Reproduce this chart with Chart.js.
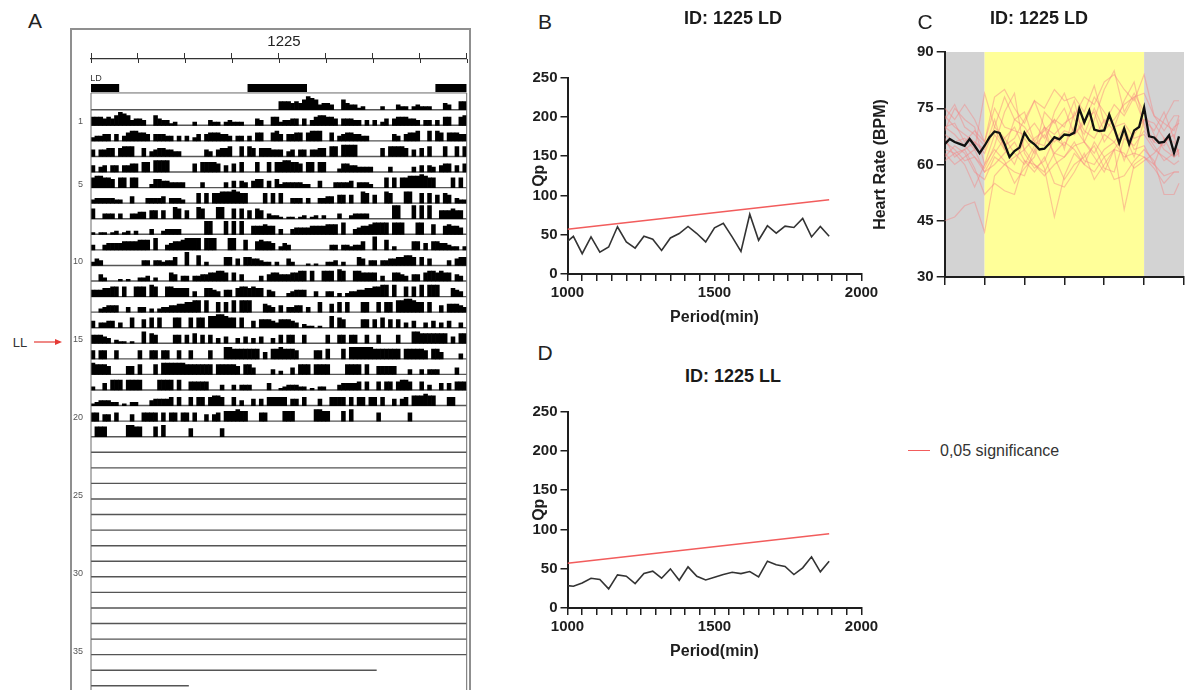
<!DOCTYPE html>
<html>
<head>
<meta charset="utf-8">
<title>1225</title>
<script src="https://cdn.jsdelivr.net/npm/chart.js@4.4.1/dist/chart.umd.min.js"></script>
<style>
html, body { margin: 0; padding: 0; background: #fff; }
body { position: relative; width: 1192px; height: 690px; overflow: hidden; font-family: "Liberation Sans", Arial, sans-serif; color: #222; }
canvas { position: absolute; }
.txt { position: absolute; white-space: nowrap; transform: translate(-50%, -50%); line-height: 1; }
.panel { font-size: 21px; color: #222; }
.ttl { font-size: 18px; font-weight: bold; color: #1a1a1a; }
#frameA { position: absolute; left: 70px; top: 28px; width: 401px; height: 700px; box-sizing: border-box; border: 2px solid #8f8f8f; }
</style>
</head>
<body>
<div id="frameA"></div>
<canvas id="acto" width="400" height="662" style="left:71px;top:28px"></canvas>
<canvas id="qpLD" width="360" height="280" style="left:520px;top:55px"></canvas>
<canvas id="hr" width="332" height="262" style="left:860px;top:30px"></canvas>
<canvas id="qpLL" width="360" height="280" style="left:520px;top:389px"></canvas>

<div class="txt panel" style="left:35px;top:20px">A</div>
<div class="txt panel" style="left:545px;top:21px">B</div>
<div class="txt panel" style="left:925px;top:21px">C</div>
<div class="txt panel" style="left:545px;top:352px">D</div>

<div class="txt" style="left:284px;top:40px;font-size:15px">1225</div>
<div class="txt" style="left:96px;top:78px;font-size:9px;color:#333">LD</div>
<div class="txt" style="left:20px;top:342px;font-size:13px;color:#333">LL</div>
<svg style="position:absolute;left:30px;top:336px" width="40" height="12">
  <line x1="4" y1="6" x2="27" y2="6" stroke="#e53935" stroke-width="1.2"/>
  <polygon points="32,6 25,3 25,9" fill="#e53935"/>
</svg>

<div class="txt ttl" style="left:733px;top:18px">ID: 1225 LD</div>
<div class="txt ttl" style="left:1039px;top:18px">ID: 1225 LD</div>
<div class="txt ttl" style="left:733px;top:376px">ID: 1225 LL</div>

<div style="position:absolute;left:908px;top:450px;width:22px;border-top:1.5px solid #f25c5c"></div>
<div style="position:absolute;left:940px;top:442px;font-size:16px;color:#333;white-space:nowrap">0,05 significance</div>

<script>
// ---- Panel A: double-plotted actogram, 30 min bins, level 0-9 per bin ----
var dayActivity = [
    '5554546876 3443006433 1200002000 3220232220 00430055',
    '2334404035 6655404443 3030302404 5554430330 30550056',
    '4044550566 6005034554 4330000004 3045560060 65055544',
    '4034044044 5506607777 0000005066 6650405060 00600606',
    '6776650660 6600025544 3333000030 0000304043 04550405',
    '2333332200 4000333340 3332000606 0667778766 00006060',
    '6003330300 3344055050 0760500760 0077006060 50650322',
    '1011012012 0200030023 3330000008 8000808080 05556550',
    '3003444455 5566607003 4556777707 7700077006 00565540',
    '2430000000 0003303323 3500800602 0000550405 54432202',
    '0042000101 0022302000 5403303344 5566505040 00030455',
    '4445566060 0666076006 6555503005 5430440566 56550430',
    '0023444003 0033020233 4455667707 0060607077 70005430',
    '4033440300 6005060600 0660060660 7788766060 04055543',
    '5554302110 1007065000 0550506050 5030400304 03040030',
    '5055005000 0050055055 0050050000 5000776666 66604066',
    '7666500005 5060006077 7777666666 6066666506 64000030',
    '2004066606 6660000666 6060055555 0003003033 30000400',
    '1233322010 2200034444 5050050550 5665005030 04040555',
    '5504405000 4005555050 5505505004 0450666766 00055000',
    '0666000007 7660006070 0000050000 0005000000 00000000'
];
var rowLabels = [1, 5, 10, 15, 20, 25, 30, 35];
var recordEnd = {day: 36, hour: 12.5};   // baseline drawn until here
var darkOn = 20;                          // LD bar: lights off
var darkOff = 3.6;                        // lights on next morning

// ---- Panels B / D: chi-square periodogram ----
var periods = [1000, 1020, 1050, 1080, 1110, 1140, 1170, 1200, 1230, 1260, 1290, 1320, 1350, 1380, 1410,
    1440, 1470, 1500, 1530, 1560, 1590, 1620, 1650, 1680, 1710, 1740, 1770, 1800, 1830, 1860, 1890];
var qpLD = [41.6, 48, 25.8, 47.2, 27.9, 34.3, 60.1, 40.8, 33, 48, 44.2, 30, 45.9, 51.5, 60.5,
    51.5, 40.8, 58.8, 64.4, 47.2, 28.8, 76, 42.9, 61.4, 51.9, 60.9, 59.2, 70.8, 47.2, 60.5, 48];
var qpLL = [28.5, 27.7, 31.9, 37.9, 36.2, 24.3, 42.1, 40.4, 31.1, 43.8, 46.8, 37.9, 49.8, 35.3, 52.3,
    40.4, 35.7, 39.1, 42.6, 45.5, 43.8, 46.4, 39.6, 59.6, 54.9, 52.8, 42.6, 51.1, 65.1, 46, 59.6];
var sigPeriods = [1000, 1890];
var sigQp = [57, 94.5];

// ---- Panel C: heart rate over the LD day ----
var phaseEdges = [0, 4, 20, 24];          // dark | light | dark
var meanHours = [0, 0.5, 1, 1.5, 2, 2.5, 3, 3.5, 4, 4.5, 5, 5.5, 6, 6.5, 7, 7.5, 8, 8.5, 9, 9.5, 10, 10.5, 11, 11.5,
    12, 12.5, 13, 13.5, 14, 14.5, 15, 15.5, 16, 16.5, 17, 17.5, 18, 18.5, 19, 19.5, 20, 20.5, 21, 21.5, 22, 22.5, 23, 23.5];
var meanBpm = [65.4, 66.8, 66, 65.5, 65, 66.8, 65, 63, 65, 67.3, 68.8, 68.4, 65.5, 62, 63.6, 64.5, 68.5, 66.4, 65.4, 64,
    64.2, 65.6, 67.3, 66.7, 68, 67.8, 68.5, 74.9, 71.2, 74.4, 69.3, 68.9, 69.1, 73.3, 69.7, 65.7, 69.6, 65.4, 69.1, 70,
    75.2, 67.5, 67.2, 65.8, 66, 67.8, 63.1, 67.5];
var dayHours = [0, 1, 2, 3, 4, 5, 6, 7, 8, 9, 10, 11, 12, 13, 14, 15, 16, 17, 18, 19, 20, 21, 22, 23, 23.5];
var dailyBpm = [
    [45, 46, 49, 50, 42, 57, 60, 62, 64, 60, 58, 63, 62, 66, 61, 60, 64, 66, 62, 63, 62, 60, 57, 58, 58],
    [73, 70, 68, 66, 63, 70, 78, 72, 74, 66, 70, 68, 71, 73, 78, 76, 82, 84, 80, 77, 84, 73, 69, 73, 73],
    [69, 75, 72, 70, 60, 68, 64, 72, 70, 66, 65, 74, 79, 72, 68, 75, 69, 72, 76, 78, 71, 66, 65, 70, 71],
    [66, 64, 61, 62, 59, 65, 74, 79, 63, 59, 61, 67, 65, 70, 66, 72, 80, 85, 74, 79, 74, 68, 64, 62, 64],
    [64, 63, 60, 54, 60, 64, 61, 55, 59, 62, 70, 62, 56, 60, 62, 65, 59, 58, 67, 65, 69, 65, 61, 63, 64],
    [62, 65, 63, 58, 56, 62, 60, 58, 57, 64, 59, 46, 57, 63, 60, 66, 62, 64, 48, 60, 62, 59, 55, 58, 58],
    [72, 76, 70, 68, 65, 69, 65, 67, 72, 77, 70, 66, 69, 68, 72, 74, 66, 70, 71, 67, 68, 64, 62, 60, 61],
    [68, 66, 67, 64, 79, 70, 67, 70, 64, 67, 69, 72, 70, 77, 66, 62, 58, 64, 68, 62, 72, 71, 67, 66, 63],
    [70, 68, 65, 62, 58, 63, 67, 63, 60, 65, 68, 63, 66, 64, 60, 58, 62, 56, 57, 61, 64, 61, 52, 52, 55],
    [67, 62, 64, 66, 64, 72, 64, 60, 67, 63, 74, 71, 75, 68, 71, 78, 74, 70, 77, 82, 70, 66, 72, 77, 77],
    [61, 63, 64, 59, 52, 55, 53, 52, 61, 58, 62, 55, 54, 58, 63, 56, 60, 64, 63, 59, 61, 63, 66, 68, 62],
    [75, 72, 76, 72, 66, 78, 80, 75, 71, 77, 75, 80, 77, 78, 74, 81, 71, 76, 73, 78, 79, 73, 71, 69, 73],
    [63, 60, 62, 64, 58, 60, 63, 66, 61, 60, 57, 60, 62, 65, 66, 63, 68, 66, 70, 64, 65, 60, 67, 62, 63],
    [70, 71, 66, 69, 66, 75, 70, 69, 68, 71, 67, 72, 64, 74, 69, 67, 72, 69, 61, 68, 72, 69, 74, 67, 72]
];

var FONT = "'Liberation Sans', Arial, sans-serif";
var INK = '#1e1e1e';
var SIG_RED = '#f25c5c';
var BIN = 0.5;            // hours per actogram bin
var LEVEL_TO_ROW = 0.105; // bar height (in rows) per activity level
var ROW_MIN = -3.26, ROW_MAX = 37.27, LAST_ROW = 37;
var LD_ROW = -1.4, FRAME_ROW = -1.08;

Chart.defaults.font.family = FONT;
Chart.defaults.animation = false;

function zip(xs, ys) {
    return xs.map(function (x, i) { return {x: x, y: ys[i]}; });
}

// lock an axis box to a given thickness so chart areas line up with the figure
function fixAxis(size) {
    return function (scale) {
        if (scale.isHorizontal()) {
            scale.height = size;
        } else {
            scale.width = size;
        }
        scale.paddingTop = scale.paddingBottom = scale.paddingLeft = scale.paddingRight = 0;
    };
}

function activityBars() {
    var bars = [];
    dayActivity.forEach(function (day, d) {
        var bins = day.replace(/ /g, '');
        for (var b = 0; b < bins.length; b++) {
            var level = +bins[b];
            if (!level) {
                continue;
            }
            var h = b * BIN + BIN / 2;
            // double plot: day d is the right half of row d and the left half of row d+1
            bars.push({x: 24 + h, y: [d, d - level * LEVEL_TO_ROW]});
            bars.push({x: h, y: [d + 1, d + 1 - level * LEVEL_TO_ROW]});
        }
    });
    return bars;
}

function rowEnd(r) {
    if (r < recordEnd.day) {
        return 48;
    }
    if (r === recordEnd.day) {
        return 24 + recordEnd.hour;
    }
    return recordEnd.hour;
}

function baselines() {
    var pts = [];
    for (var r = 0; r <= LAST_ROW; r++) {
        pts.push({x: 0, y: r}, {x: rowEnd(r), y: r}, {x: rowEnd(r), y: null});
    }
    return pts;
}

function ldBar() {
    var spans = [[0, darkOff], [darkOn, 24 + darkOff], [24 + darkOn, 48]];
    var pts = [];
    spans.forEach(function (s) {
        pts.push({x: s[0], y: LD_ROW}, {x: s[1], y: LD_ROW}, {x: s[1], y: null});
    });
    return pts;
}

// frame around the rows, plus the lower half of the top scale's tick marks
var actogramFrame = {
    id: 'actogramFrame',
    afterDatasetsDraw: function (chart) {
        var x = chart.scales.x, y = chart.scales.y, ctx = chart.ctx;
        var left = x.getPixelForValue(0), right = x.getPixelForValue(48);
        var top = y.getPixelForValue(FRAME_ROW), bottom = chart.chartArea.bottom;
        ctx.save();
        ctx.strokeStyle = '#6a6a6a';
        ctx.lineWidth = 1;
        ctx.beginPath();
        ctx.moveTo(left, bottom);
        ctx.lineTo(left, top);
        ctx.lineTo(right, top);
        ctx.lineTo(right, bottom);
        ctx.stroke();

        ctx.strokeStyle = '#333';
        ctx.beginPath();
        x.ticks.forEach(function (t) {
            var px = Math.round(x.getPixelForValue(t.value)) + 0.5;
            ctx.moveTo(px, x.bottom);
            ctx.lineTo(px, x.bottom + 4);
        });
        ctx.stroke();
        ctx.restore();
    }
};

new Chart(document.getElementById('acto'), {
    type: 'bar',
    data: {
        datasets: [{
            label: 'activity',
            data: activityBars(),
            backgroundColor: '#000',
            borderWidth: 0,
            barPercentage: 1,
            categoryPercentage: 1
        }, {
            type: 'line',
            label: 'LD',
            data: ldBar(),
            borderColor: '#000',
            borderWidth: 8,
            borderCapStyle: 'butt',
            pointRadius: 0
        }, {
            type: 'line',
            label: 'baseline',
            data: baselines(),
            borderColor: '#555',
            borderWidth: 1.4,
            pointRadius: 0
        }]
    },
    options: {
        responsive: false,
        devicePixelRatio: 1,
        layout: {padding: {left: 0, top: 25, right: 4.3, bottom: 0}},
        plugins: {legend: {display: false}, tooltip: {enabled: false}},
        scales: {
            x: {
                type: 'linear', position: 'top', min: 0, max: 48, offset: false,
                afterFit: fixAxis(6),
                ticks: {stepSize: 6, autoSkip: false, callback: function () { return ''; }},
                grid: {offset: false, drawOnChartArea: false, tickLength: 6, color: '#333', lineWidth: 1},
                border: {color: '#333', width: 1.2}
            },
            y: {
                type: 'linear', reverse: true, min: ROW_MIN, max: ROW_MAX,
                afterFit: fixAxis(20),
                afterBuildTicks: function (scale) {
                    scale.ticks = rowLabels.map(function (v) { return {value: v}; });
                },
                ticks: {padding: 8, labelOffset: -3.5, color: '#555', font: {size: 9}},
                grid: {display: false, drawTicks: false},
                border: {display: false}
            }
        }
    },
    plugins: [actogramFrame]
});

function periodogram(id, qp) {
    return new Chart(document.getElementById(id), {
        type: 'line',
        data: {
            datasets: [{
                label: 'Qp',
                data: zip(periods, qp),
                borderColor: '#333',
                borderWidth: 1.6,
                pointRadius: 0,
                tension: 0
            }, {
                label: '0,05 significance',
                data: zip(sigPeriods, sigQp),
                borderColor: SIG_RED,
                borderWidth: 1.6,
                pointRadius: 0
            }]
        },
        options: {
            responsive: false,
            devicePixelRatio: 1,
            layout: {padding: {left: 0, top: 22.5, right: 18.5, bottom: 0}},
            plugins: {legend: {display: false}, tooltip: {enabled: false}},
            scales: {
                x: {
                    type: 'linear', min: 1000, max: 2000,
                    afterFit: fixAxis(61),
                    ticks: {
                        stepSize: 50, autoSkip: false, maxRotation: 0, padding: 3,
                        color: INK, font: {size: 15, weight: 'bold'},
                        callback: function (v) { return v % 500 === 0 ? v : ''; }
                    },
                    grid: {drawOnChartArea: false, tickLength: 7, color: INK, lineWidth: 1.5},
                    border: {color: INK, width: 2},
                    title: {display: true, text: 'Period(min)', color: INK, font: {size: 16, weight: 'bold'}, padding: {top: 0, bottom: 7.4}}
                },
                y: {
                    min: 0, max: 250,
                    afterFit: fixAxis(47.5),
                    ticks: {stepSize: 50, padding: 3, color: INK, font: {size: 15, weight: 'bold'}},
                    grid: {drawOnChartArea: false, tickLength: 7, color: INK, lineWidth: 1.5},
                    border: {color: INK, width: 2},
                    title: {display: true, text: 'Qp', color: INK, font: {size: 16, weight: 'bold'}, padding: {top: 10.4, bottom: 0}}
                }
            }
        }
    });
}

periodogram('qpLD', qpLD);
periodogram('qpLL', qpLL);

// gray for dark phases, yellow for light, painted under the axes
var phaseShading = {
    id: 'phaseShading',
    beforeDraw: function (chart) {
        var x = chart.scales.x, area = chart.chartArea, ctx = chart.ctx;
        ctx.save();
        for (var i = 0; i < phaseEdges.length - 1; i++) {
            var x0 = x.getPixelForValue(phaseEdges[i]);
            var x1 = x.getPixelForValue(phaseEdges[i + 1]);
            ctx.fillStyle = i % 2 === 0 ? '#d3d3d3' : '#ffff99';
            ctx.fillRect(x0, area.top, x1 - x0, area.bottom - area.top);
        }
        ctx.restore();
    }
};

var hrSets = [{
    label: 'mean',
    data: zip(meanHours, meanBpm),
    borderColor: '#111',
    borderWidth: 2.3,
    pointRadius: 0,
    tension: 0
}];
dailyBpm.forEach(function (series, i) {
    hrSets.push({
        label: 'day ' + (i + 1),
        data: zip(dayHours, series),
        borderColor: 'rgba(246, 130, 130, 0.45)',
        borderWidth: 1.2,
        pointRadius: 0,
        tension: 0
    });
});

new Chart(document.getElementById('hr'), {
    type: 'line',
    data: {datasets: hrSets},
    options: {
        responsive: false,
        devicePixelRatio: 1,
        layout: {padding: {left: 0, top: 22, right: 8, bottom: 0}},
        plugins: {legend: {display: false}, tooltip: {enabled: false}},
        scales: {
            x: {
                type: 'linear', min: 0, max: 24,
                afterFit: fixAxis(15),
                ticks: {stepSize: 4, autoSkip: false, callback: function () { return ''; }},
                grid: {drawOnChartArea: false, tickLength: 8, color: INK, lineWidth: 1.5},
                border: {color: INK, width: 2}
            },
            y: {
                min: 30, max: 90,
                afterFit: fixAxis(84.7),
                ticks: {stepSize: 15, padding: 3, color: INK, font: {size: 15, weight: 'bold'}},
                grid: {drawOnChartArea: false, tickLength: 8, color: INK, lineWidth: 1.5},
                border: {color: INK, width: 2},
                title: {display: true, text: 'Heart Rate (BPM)', color: INK, font: {size: 16, weight: 'bold'}, padding: {top: 11, bottom: 0}}
            }
        }
    },
    plugins: [phaseShading]
});
</script>
</body>
</html>
